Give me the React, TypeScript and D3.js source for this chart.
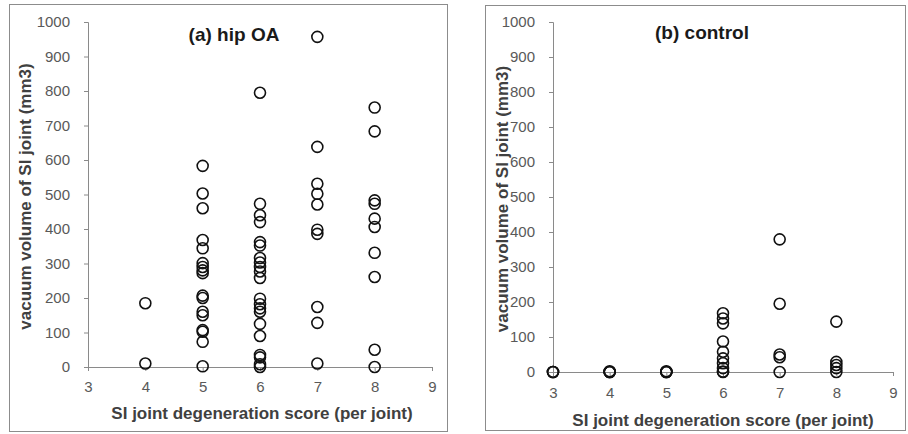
import React, { useEffect, useRef } from "react";
import * as d3 from "d3";

// SI joint degeneration score (x) and the tick values on both axes
const scores = [3, 4, 5, 6, 7, 8];
const xTicks = [3, 4, 5, 6, 7, 8, 9];
const yTicks = [0, 100, 200, 300, 400, 500, 600, 700, 800, 900, 1000];

// vacuum volume (mm3) per score, hip OA group
const hipOAValues = [
  [],
  [185, 10],
  [583, 503, 460, 368, 344, 301, 290, 280, 272, 207, 200, 160, 150, 107, 102, 73, 2],
  [795, 473, 440, 420, 362, 352, 316, 303, 290, 277, 258, 198, 182, 170, 160, 125, 90, 35, 28, 8, 0],
  [957, 638, 531, 502, 471, 398, 386, 174, 128, 10],
  [752, 683, 483, 473, 430, 406, 331, 261, 50, 0],
];

// vacuum volume (mm3) per score, control group
const controlValues = [
  [0, 0, 0],
  [0, 0, 2, 0],
  [0, 2, 0, 0],
  [168, 153, 139, 87, 58, 39, 25, 11, 1, 0],
  [379, 195, 50, 42, 0],
  [144, 29, 20, 11, 0],
];

const panels = [
  {
    title: "(a) hip OA",
    values: hipOAValues,
    frame: { x: 9, y: 4, w: 438, h: 427 },
    xRange: [88, 432],
    yRange: [367, 22],
    titlePos: [234, 41],
    yLabelX: 25,
    xLabelY: 419,
    xLabelShift: 2,
    xTickPad: 10,
  },
  {
    title: "(b) control",
    values: controlValues,
    frame: { x: 485, y: 5, w: 420, h: 425 },
    xRange: [553, 893],
    yRange: [372, 22],
    titlePos: [702, 39],
    yLabelX: 502,
    xLabelY: 426,
    xLabelShift: 0,
    xTickPad: 11,
  },
];

export default function App() {
  const ref = useRef(null);

  useEffect(() => {
    const svg = d3.select(ref.current);
    svg.selectAll("*").remove();
    const font = "Arial, 'Liberation Sans', sans-serif";

    panels.forEach((p) => {
      const g = svg.append("g");

      g.append("rect")
        .attr("x", p.frame.x + 0.5)
        .attr("y", p.frame.y + 0.5)
        .attr("width", p.frame.w)
        .attr("height", p.frame.h)
        .attr("fill", "white")
        .attr("stroke", "#8c8c8c");

      const x = d3.scaleLinear().domain([3, 9]).range(p.xRange);
      const y = d3.scaleLinear().domain([0, 1000]).range(p.yRange);

      // y axis
      const yAxis = g
        .append("g")
        .attr("transform", `translate(${p.xRange[0]},0)`)
        .call(
          d3
            .axisLeft(y)
            .tickValues(yTicks)
            .tickFormat(d3.format("d"))
            .tickSize(4)
            .tickSizeOuter(4)
            .tickPadding(14)
        );
      yAxis.select(".domain").attr("stroke", "#8a8a8a");
      yAxis.selectAll("line").attr("stroke", "#8a8a8a");
      yAxis
        .selectAll("text")
        .attr("font-family", font)
        .attr("font-size", 15)
        .attr("fill", "#595959");

      // x axis sits at value 0
      const xAxis = g
        .append("g")
        .attr("transform", `translate(0,${y(0)})`)
        .call(
          d3
            .axisBottom(x)
            .tickValues(xTicks)
            .tickFormat(d3.format("d"))
            .tickSize(4)
            .tickSizeOuter(0)
            .tickPadding(p.xTickPad)
        );
      xAxis.select(".domain").attr("stroke", "#8a8a8a");
      xAxis.selectAll("line").attr("stroke", "#8a8a8a");
      xAxis
        .selectAll("text")
        .attr("font-family", font)
        .attr("font-size", 15)
        .attr("fill", "#595959");

      const points = p.values.flatMap((vals, i) =>
        vals.map((v) => ({ score: scores[i], value: v }))
      );

      g.append("g")
        .selectAll("circle")
        .data(points)
        .enter()
        .append("circle")
        .attr("cx", (d) => x(d.score))
        .attr("cy", (d) => y(d.value))
        .attr("r", 5.5)
        .attr("fill", "none")
        .attr("stroke", "#111")
        .attr("stroke-width", 1.6);

      g.append("text")
        .attr("x", p.titlePos[0])
        .attr("y", p.titlePos[1])
        .attr("text-anchor", "middle")
        .attr("font-family", font)
        .attr("font-weight", "bold")
        .attr("font-size", 19)
        .attr("fill", "#1a1a1a")
        .text(p.title);

      g.append("text")
        .attr("x", (p.xRange[0] + p.xRange[1]) / 2 + p.xLabelShift)
        .attr("y", p.xLabelY)
        .attr("text-anchor", "middle")
        .attr("font-family", font)
        .attr("font-weight", "bold")
        .attr("font-size", 17)
        .attr("fill", "#404040")
        .text("SI joint degeneration score (per joint)");

      g.append("text")
        .attr("transform", `translate(${p.yLabelX},${(p.yRange[0] + p.yRange[1]) / 2 + 2}) rotate(-90)`)
        .attr("dy", "0.35em")
        .attr("text-anchor", "middle")
        .attr("font-family", font)
        .attr("font-weight", "bold")
        .attr("font-size", 17)
        .attr("fill", "#404040")
        .text("vacuum volume of SI joint (mm3)");
    });
  }, []);

  return (
    <svg
      ref={ref}
      width={908}
      height={434}
      style={{ position: "absolute", left: 0, top: 0, background: "white" }}
    ></svg>
  );
}
